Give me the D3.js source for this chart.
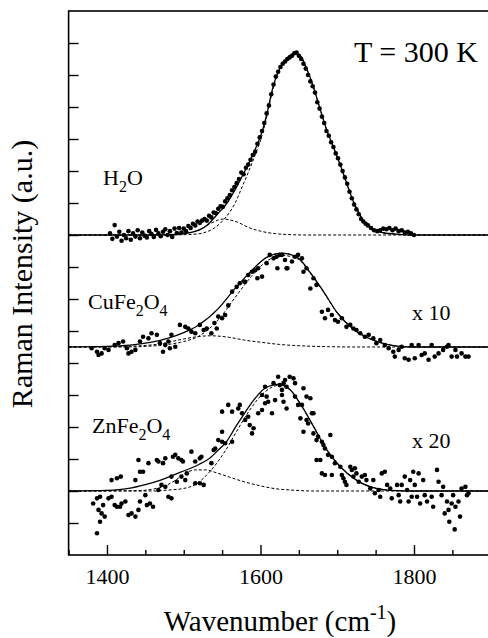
<!DOCTYPE html>
<html>
<head>
<meta charset="utf-8">
<script src="https://cdn.jsdelivr.net/npm/d3@7"></script>
<style>
  body { margin: 0; background: #fff; }
  svg { display: block; }
  text { font-family: "Liberation Serif", "Times New Roman", serif; fill: #000; }
</style>
</head>
<body>
<svg id="chart" width="488" height="638"></svg>
<script>
// baseline of each stacked spectrum, in y-axis units
var offsets = [10, 6.5, 2];
var xMajorTicks = [1400, 1600, 1800];
var xMinorTicks = [1350, 1450, 1500, 1550, 1650, 1700, 1750, 1850, 1900];
var yTicks = [1, 2, 3, 4, 5, 6, 7, 8, 9, 10, 11, 12, 13, 14, 15, 16];

// [wavenumber, intensity above baseline]
var h2oDots = [[1404,0.05],[1407,-0.12],[1410,0.31],[1413,-0.05],[1416,0.1],[1419,-0.18],[1422,0.0],[1425,-0.1],
  [1428,0.12],[1431,-0.15],[1434,0.05],[1437,-0.05],[1440,0.15],[1443,-0.1],[1446,0.08],[1449,-0.02],[1452,-0.08],
  [1455,0.12],[1458,0.03],[1461,-0.06],[1464,0.16],[1467,0.05],[1470,-0.04],[1473,0.1],[1476,0.18],[1479,0.0],
  [1482,0.12],[1485,-0.06],[1488,0.2],[1491,0.06],[1494,0.22],[1497,0.08],[1500,0.2],[1503,0.12],[1506,0.28],
  [1509,0.22],[1512,0.35],[1515,0.3],[1518,0.42],[1521,0.38],[1524,0.45],[1527,0.5],[1530,0.45],[1533,0.6],
  [1536,0.55],[1539,0.7],[1542,0.68],[1545,0.82],[1548,0.9],[1551,0.88],[1554,1.05],[1557,1.15],[1560,1.25],
  [1563,1.4],[1566,1.5],[1569,1.62],[1572,1.75],[1575,1.95],[1578,1.9],[1581,2.1],[1584,2.2],[1587,2.35],
  [1590,2.5],[1593,2.6],[1596,2.85],[1599,3.05],[1602,3.25],[1605,3.5],[1608,3.8],[1611,4.05],[1614,4.4],
  [1617,4.7],[1620,4.95],[1623,5.1],[1626,5.25],[1629,5.35],[1632,5.42],[1635,5.5],[1638,5.55],[1641,5.6],
  [1644,5.68],[1647,5.7],[1650,5.6],[1653,5.5],[1656,5.35],[1659,5.2],[1662,5.0],[1665,4.8],[1668,4.65],
  [1671,4.45],[1674,4.15],[1677,3.95],[1680,3.7],[1683,3.5],[1686,3.25],[1689,3.1],[1692,2.9],[1695,2.75],
  [1698,2.55],[1701,2.4],[1704,2.2],[1707,2.0],[1710,1.8],[1713,1.6],[1716,1.35],[1719,1.15],[1722,0.95],
  [1725,0.8],[1728,0.65],[1731,0.5],[1734,0.42],[1737,0.35],[1740,0.3],[1744,0.22],[1748,0.15],[1752,0.12],
  [1756,0.15],[1760,0.2],[1764,0.18],[1768,0.22],[1772,0.15],[1776,0.2],[1780,0.12],[1784,0.15],[1788,0.08],
  [1792,0.1],[1796,0.05],[1800,0.0]];
var h2oFit = [[1350,0],[1450,0],[1490,0.02],[1510,0.08],[1530,0.3],[1545,0.68],[1555,0.95],[1567,1.42],
  [1576,1.83],[1584,2.2],[1593,2.67],[1603,3.3],[1608,3.75],[1616,4.6],[1621,4.98],[1630,5.4],[1638,5.6],
  [1645,5.68],[1652,5.6],[1660,5.2],[1668,4.7],[1675,4.15],[1686,3.3],[1695,2.75],[1706,2.05],[1714,1.5],
  [1721,1.05],[1728,0.7],[1734,0.45],[1745,0.2],[1760,0.07],[1780,0.02],[1800,0],[1900,0]];
var h2oMain = [[1350,0],[1480,0],[1500,0.01],[1520,0.04],[1530,0.1],[1540,0.22],[1551,0.45],[1560,0.72],
  [1567,1.0],[1576,1.5],[1584,1.95],[1593,2.5],[1603,3.2],[1608,3.68],[1616,4.55],[1621,4.95],[1630,5.4],
  [1638,5.6],[1645,5.68],[1652,5.6],[1660,5.2],[1668,4.7],[1675,4.15],[1686,3.3],[1695,2.75],[1706,2.05],
  [1714,1.5],[1721,1.05],[1728,0.7],[1734,0.45],[1745,0.2],[1760,0.07],[1780,0.02],[1800,0],[1900,0]];
var h2oSide = [[1350,0],[1480,0],[1490,0.02],[1505,0.06],[1520,0.16],[1535,0.36],[1545,0.47],[1552,0.5],
  [1560,0.47],[1570,0.4],[1586,0.22],[1600,0.12],[1620,0.04],[1640,0.01],[1660,0],[1900,0]];

var cuDots = [[1380,-0.04],[1387,-0.15],[1389,-0.25],[1393,-0.2],[1397,-0.04],[1402,-0.09],[1410,0.06],
  [1415,0.12],[1421,0.17],[1426,-0.04],[1428,-0.2],[1432,-0.15],[1437,-0.09],[1443,0.17],[1447,0.32],
  [1454,0.27],[1458,0.43],[1465,0.38],[1469,0.12],[1473,-0.15],[1476,0.06],[1480,0.17],[1482,-0.04],
  [1484,0.38],[1489,0.01],[1495,0.69],[1502,0.63],[1506,0.58],[1510,0.48],[1515,0.43],[1521,0.69],
  [1526,0.53],[1530,0.58],[1536,0.43],[1540,0.75],[1543,0.58],[1545,0.95],[1550,0.9],[1554,1.0],
  [1558,1.3],[1563,1.73],[1569,1.88],[1573,1.99],[1579,2.04],[1580,2.04],[1584,2.25],[1589,2.35],
  [1593,2.4],[1596,2.15],[1597,2.46],[1602,2.2],[1608,2.62],[1612,2.88],[1617,2.77],[1621,2.82],
  [1622,2.46],[1625,2.88],[1628,2.88],[1632,2.72],[1634,2.46],[1635,2.46],[1641,2.67],[1645,2.82],
  [1649,2.88],[1654,2.77],[1656,2.35],[1660,2.46],[1665,1.83],[1669,2.15],[1673,1.94],[1680,1.1],
  [1684,0.9],[1688,1.16],[1693,1.0],[1697,0.84],[1701,0.79],[1706,0.9],[1712,0.63],[1717,0.69],
  [1721,0.58],[1725,0.53],[1730,0.43],[1736,0.32],[1741,0.38],[1747,0.27],[1751,0.12],[1756,0.22],
  [1762,0.06],[1767,-0.04],[1773,-0.15],[1775,-0.3],[1780,-0.09],[1784,0.01],[1788,-0.35],[1793,-0.4],
  [1797,0.06],[1801,-0.35],[1806,0.06],[1810,-0.25],[1814,-0.2],[1819,-0.4],[1823,0.06],[1827,-0.3],
  [1832,-0.2],[1838,-0.09],[1843,0.01],[1845,0.06],[1849,-0.3],[1854,-0.09],[1856,-0.3],[1862,-0.2],
  [1867,-0.3],[1871,-0.3]];
var cuFit = [[1350,0],[1400,0.02],[1430,0.06],[1458,0.15],[1480,0.28],[1500,0.45],[1519,0.68],[1545,1.2],
  [1567,1.83],[1588,2.38],[1608,2.8],[1628,2.93],[1648,2.8],[1665,2.32],[1683,1.7],[1700,1.07],[1722,0.54],
  [1752,0.17],[1778,0.03],[1800,0],[1900,0]];
var cuMain = [[1350,0],[1420,0],[1450,0.02],[1480,0.08],[1500,0.17],[1519,0.33],[1545,0.85],[1567,1.55],
  [1588,2.2],[1608,2.68],[1628,2.86],[1648,2.76],[1665,2.3],[1683,1.69],[1700,1.06],[1722,0.54],[1752,0.17],
  [1778,0.03],[1800,0],[1900,0]];
var cuSide = [[1350,0],[1400,0.01],[1436,0.03],[1470,0.1],[1500,0.25],[1520,0.33],[1535,0.35],[1560,0.3],
  [1578,0.22],[1600,0.15],[1625,0.08],[1650,0.04],[1690,0.01],[1720,0],[1900,0]];

var znDots = [[1387,-1.32],[1382,-0.39],[1387,-0.23],[1391,-0.18],[1395,-0.44],[1389,-0.59],[1393,-0.7],
  [1391,-0.96],[1397,-0.8],[1402,-0.23],[1406,-0.18],[1410,-0.44],[1413,-0.49],[1417,-0.49],[1419,-0.39],
  [1424,-0.33],[1428,-0.75],[1432,-0.7],[1437,-0.8],[1441,-0.59],[1443,-0.33],[1450,-0.13],[1452,-0.44],
  [1456,-0.39],[1460,-0.49],[1406,0.34],[1413,0.4],[1418,0.45],[1437,0.34],[1443,0.6],[1447,0.6],
  [1454,0.87],[1441,0.97],[1465,0.97],[1467,0.92],[1473,0.87],[1476,1.02],[1486,1.07],[1489,1.13],
  [1493,1.02],[1497,0.97],[1499,0.92],[1510,1.23],[1515,0.92],[1521,1.02],[1523,1.07],[1504,0.55],
  [1502,0.34],[1497,0.45],[1491,0.29],[1484,0.45],[1476,0.13],[1471,0.19],[1467,0.03],[1480,-0.18],
  [1484,-0.23],[1515,0.24],[1521,0.24],[1526,0.19],[1536,0.87],[1539,1.28],[1541,1.33],[1545,1.59],
  [1550,1.54],[1554,1.49],[1563,1.54],[1550,1.85],[1550,2.48],[1558,2.69],[1563,2.48],[1571,2.58],
  [1573,2.69],[1576,2.43],[1580,2.22],[1584,2.32],[1586,2.06],[1589,1.8],[1591,1.96],[1597,2.43],
  [1602,2.53],[1606,2.74],[1610,2.79],[1615,2.43],[1619,2.84],[1602,3.0],[1608,2.95],[1606,3.26],
  [1617,3.37],[1623,3.57],[1628,3.16],[1632,3.47],[1625,3.31],[1630,3.37],[1628,3.0],[1630,2.79],
  [1634,2.58],[1634,3.26],[1638,3.57],[1643,3.52],[1645,3.37],[1645,2.95],[1649,2.69],[1654,2.69],
  [1656,3.21],[1660,2.95],[1665,2.9],[1667,2.43],[1669,2.43],[1652,2.27],[1656,1.85],[1660,2.22],
  [1662,2.11],[1669,1.8],[1673,1.59],[1675,1.7],[1680,1.54],[1682,1.44],[1684,1.33],[1691,1.75],
  [1688,1.13],[1693,1.07],[1673,0.97],[1678,0.97],[1680,0.55],[1684,0.5],[1693,0.5],[1697,0.87],
  [1704,0.76],[1706,0.5],[1708,0.4],[1710,0.29],[1712,0.19],[1717,0.76],[1719,0.66],[1723,0.71],
  [1725,0.55],[1721,0.45],[1728,0.29],[1732,0.45],[1736,0.5],[1738,0.34],[1743,0.08],[1747,0.34],
  [1749,-0.07],[1754,0.03],[1756,-0.18],[1758,0.55],[1762,0.6],[1765,0.19],[1769,0.08],[1771,-0.23],
  [1778,0.19],[1780,-0.13],[1782,-0.33],[1784,0.19],[1788,0.45],[1791,0.03],[1793,-0.33],[1795,0.34],
  [1797,-0.18],[1799,0.6],[1801,0.19],[1804,-0.18],[1806,0.55],[1808,-0.39],[1812,0.34],[1814,-0.13],
  [1817,-0.33],[1823,-0.18],[1825,-0.49],[1830,0.66],[1832,0.29],[1836,-0.13],[1838,0.13],[1840,-0.7],
  [1843,-0.33],[1846,-0.96],[1845,-0.59],[1849,-0.39],[1851,-0.13],[1854,-0.49],[1853,-1.2],[1858,-0.33],
  [1860,-0.8],[1862,0.08],[1867,0.13],[1869,-0.13],[1871,-0.07]];
var znFit = [[1350,0],[1400,0.02],[1428,0.08],[1450,0.2],[1470,0.34],[1495,0.58],[1519,0.82],[1535,1.05],
  [1545,1.28],[1556,1.55],[1567,1.98],[1577,2.35],[1588,2.74],[1606,3.21],[1623,3.33],[1638,3.18],
  [1651,2.76],[1669,2.02],[1686,1.3],[1704,0.76],[1725,0.34],[1751,0.08],[1777,0.01],[1800,0],[1900,0]];
var znMain = [[1350,0],[1460,0],[1480,0.03],[1500,0.08],[1515,0.2],[1536,0.66],[1554,1.25],[1571,1.95],
  [1588,2.6],[1606,3.1],[1623,3.3],[1638,3.17],[1651,2.76],[1669,2.02],[1686,1.3],[1704,0.76],[1725,0.34],
  [1751,0.08],[1777,0.01],[1800,0],[1900,0]];
var znSide = [[1350,0],[1440,0.01],[1460,0.06],[1475,0.15],[1490,0.35],[1502,0.55],[1515,0.66],[1528,0.66],
  [1545,0.55],[1560,0.43],[1580,0.28],[1600,0.16],[1620,0.07],[1640,0.03],[1670,0],[1900,0]];

var spectra = [
  {dots: h2oDots, fit: h2oFit, bands: [h2oMain, h2oSide]},
  {dots: cuDots, fit: cuFit, bands: [cuMain, cuSide]},
  {dots: znDots, fit: znFit, bands: [znMain, znSide]}
];

var svg = d3.select("#chart");

var x = d3.scaleLinear().domain([1350, 1900]).range([68.6, 490.75]);
var y = d3.scaleLinear().domain([0, 17]).range([555, 11]);

spectra.forEach(function(s, i) {
    var off = offsets[i];
    var line = d3.line()
        .x(function(d) {return x(d[0]);})
        .y(function(d) {return y(d[1] + off);})
        .curve(d3.curveMonotoneX);

    s.bands.forEach(function(b) {
        svg.append("path")
          .attr("d", line(b))
          .attr("fill", "none")
          .attr("stroke", "#000")
          .attr("stroke-width", 1)
          .attr("stroke-dasharray", "3,2");
    });

    svg.append("path")
      .attr("d", line(s.fit))
      .attr("fill", "none")
      .attr("stroke", "#000")
      .attr("stroke-width", 1.3);

    svg.append("g")
      .selectAll("circle")
      .data(s.dots)
      .enter().append("circle")
      .attr("cx", function(d) {return x(d[0]);})
      .attr("cy", function(d) {return y(d[1] + off);})
      .attr("r", 2.3)
      .attr("fill", "#000");
});

// axes: ticks point inwards
var xMajor = svg.append("g")
    .attr("transform", "translate(0," + y(0) + ")")
    .call(d3.axisBottom(x).tickValues(xMajorTicks).tickSize(-10).tickPadding(13).tickFormat(d3.format("d")));
var xMinor = svg.append("g")
    .attr("transform", "translate(0," + y(0) + ")")
    .call(d3.axisBottom(x).tickValues(xMinorTicks).tickSize(-5).tickFormat(""));
var yAxis = svg.append("g")
    .attr("transform", "translate(" + x(1350) + ",0)")
    .call(d3.axisLeft(y).tickValues(yTicks).tickSize(-10).tickFormat(""));

[xMajor, xMinor, yAxis].forEach(function(g) {
    g.select(".domain").remove();
    g.selectAll("line").attr("stroke", "#000").attr("stroke-width", 1.4);
});
xMajor.selectAll("text")
  .attr("fill", "#000")
  .style("font-family", "'Liberation Serif', 'Times New Roman', serif")
  .style("font-size", "22px");

svg.append("rect")
  .attr("x", x(1350))
  .attr("y", y(17))
  .attr("width", x(1900) - x(1350))
  .attr("height", y(0) - y(17))
  .attr("fill", "none")
  .attr("stroke", "#000")
  .attr("stroke-width", 1.6);

// titles
svg.append("text")
  .attr("transform", "translate(32,274) rotate(-90)")
  .attr("text-anchor", "middle")
  .style("font-size", "30px")
  .text("Raman Intensity (a.u.)");

var xl = svg.append("text")
  .attr("x", 280)
  .attr("y", 631)
  .attr("text-anchor", "middle")
  .style("font-size", "29px");
xl.append("tspan").text("Wavenumber (cm");
xl.append("tspan").attr("dy", -12).style("font-size", "20px").text("-1");
xl.append("tspan").attr("dy", 12).text(")");

svg.append("text")
  .attr("x", 354)
  .attr("y", 62)
  .style("font-size", "30px")
  .text("T = 300 K");

// sample labels with subscripts
function chemLabel(parts, px, py) {
    var t = svg.append("text").attr("x", px).attr("y", py).style("font-size", "22px");
    var down = false;
    parts.forEach(function(p) {
        var isSub = /^[0-9]$/.test(p);
        var dy = 0;
        if (isSub && !down) {dy = 7; down = true;}
        else if (!isSub && down) {dy = -7; down = false;}
        t.append("tspan").attr("dy", dy).style("font-size", isSub ? "16px" : "22px").text(p);
    });
}
chemLabel(["H", "2", "O"], 103, 185);
chemLabel(["CuFe", "2", "O", "4"], 88, 309);
chemLabel(["ZnFe", "2", "O", "4"], 92, 433);

svg.append("text").attr("x", 412).attr("y", 320).style("font-size", "22px").text("x 10");
svg.append("text").attr("x", 412).attr("y", 448).style("font-size", "22px").text("x 20");
</script>
</body>
</html>
